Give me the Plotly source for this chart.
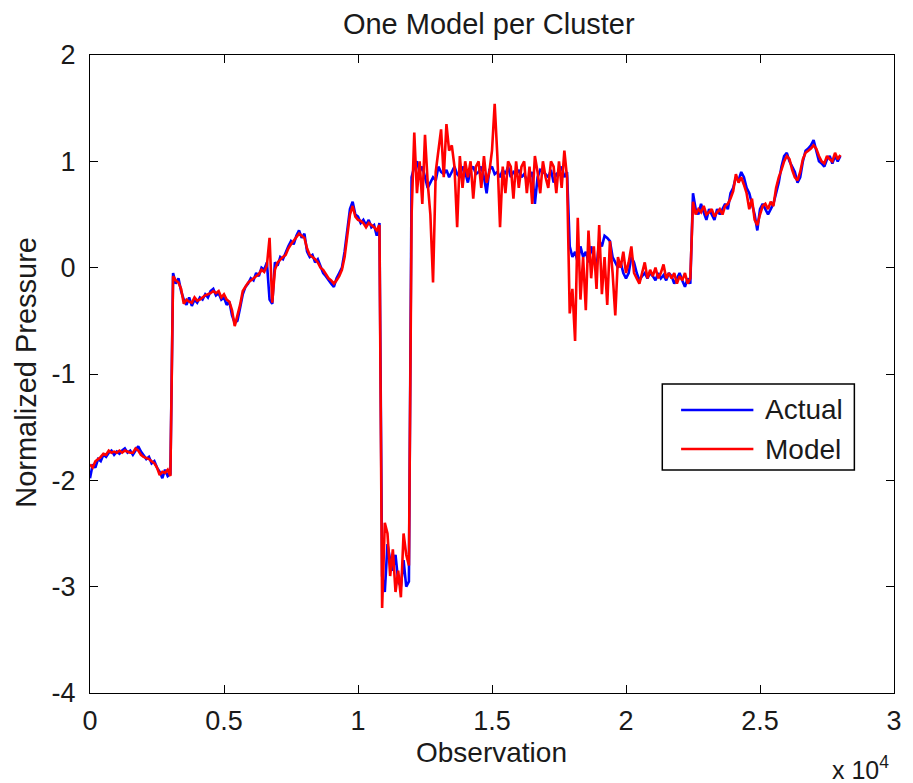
import numpy as np
import plotly.graph_objects as go

OBS_STEP = 100  # observations between stored samples

actual = [
    -1.98, -1.85, -1.88, -1.80, -1.82, -1.76, -1.78, -1.74, -1.72, -1.76,
    -1.73, -1.75, -1.72, -1.70, -1.74, -1.72, -1.76, -1.72, -1.68, -1.73,
    -1.76, -1.80, -1.78, -1.84, -1.82, -1.88, -1.92, -1.98, -1.90, -1.96,
    -1.94, -0.05, -0.15, -0.10, -0.22, -0.30, -0.35, -0.28, -0.36, -0.30,
    -0.33, -0.28, -0.30, -0.25, -0.28, -0.22, -0.20, -0.26, -0.24, -0.30,
    -0.28, -0.35, -0.32, -0.45, -0.52, -0.50, -0.38, -0.25, -0.18, -0.15,
    -0.10, -0.12, -0.05, -0.08, 0.00, -0.02, 0.05, -0.30, -0.34, 0.05,
    0.02, 0.10, 0.08, 0.15, 0.20, 0.25, 0.22, 0.30, 0.35, 0.28,
    0.32, 0.15, 0.10, 0.12, 0.05, 0.08, 0.02, -0.05, -0.08, -0.12,
    -0.15, -0.18, -0.10, -0.05, 0.00, 0.15, 0.35, 0.55, 0.62, 0.50,
    0.48, 0.42, 0.45, 0.40, 0.45, 0.38, 0.40, 0.30, 0.42, -2.90,
    -3.05, -2.60, -2.75, -2.85, -2.70, -2.95, -3.00, -2.75, -3.00, -2.95,
    0.85, 0.95, 1.00, 0.90, 0.95, 0.85, 0.75, 0.80, 0.85, 0.82,
    0.95, 0.90, 0.88, 0.92, 0.85, 0.90, 0.95, 0.88, 0.85, 0.95,
    0.90, 0.80, 0.92, 0.95, 0.88, 0.90, 0.95, 0.85, 0.70, 0.92,
    0.95, 0.88, 0.90, 0.85, 0.92, 0.88, 0.95, 0.85, 0.90, 0.88,
    0.92, 0.85, 0.88, 0.82, 0.85, 0.90, 0.60, 0.85, 0.92, 0.90,
    0.88, 0.85, 0.92, 0.80, 0.88, 0.90, 0.95, 0.85, 0.90, 0.20,
    0.10, 0.15, 0.05, 0.20, 0.10, 0.15, 0.05, 0.20, 0.10, 0.00,
    0.25, 0.20, 0.30, 0.28, 0.25, 0.10, 0.05, 0.00, 0.05, -0.05,
    -0.10, -0.05, 0.10, 0.05, -0.05, -0.12, -0.08, -0.05, -0.10, -0.05,
    -0.08, -0.12, -0.05, -0.10, -0.07, -0.12, -0.05, -0.08, -0.15, -0.10,
    -0.05, -0.12, -0.18, -0.10, -0.15, 0.70, 0.55, 0.50, 0.60, 0.52,
    0.45, 0.55, 0.50, 0.45, 0.55, 0.50, 0.55, 0.60, 0.55, 0.70,
    0.75, 0.85, 0.82, 0.90, 0.85, 0.75, 0.70, 0.60, 0.50, 0.35,
    0.55, 0.60, 0.55, 0.50, 0.55, 0.60, 0.70, 0.80, 0.95, 1.05,
    1.08, 1.00, 0.95, 0.90, 0.80, 0.85, 1.00, 1.10, 1.12, 1.15,
    1.20, 1.10, 1.00, 0.98, 0.95, 1.02, 1.05, 0.98, 1.05, 1.00, 1.05,
]

model = [
    -1.85, -1.88, -1.82, -1.80, -1.78, -1.75, -1.76, -1.72, -1.74, -1.73,
    -1.74, -1.72, -1.74, -1.72, -1.73, -1.74, -1.74, -1.70, -1.72, -1.76,
    -1.78, -1.79, -1.80, -1.82, -1.84, -1.88, -1.95, -1.92, -1.93, -1.90,
    -1.96, -0.08, -0.12, -0.14, -0.20, -0.34, -0.30, -0.32, -0.33, -0.28,
    -0.31, -0.30, -0.28, -0.26, -0.25, -0.24, -0.22, -0.24, -0.22, -0.28,
    -0.25, -0.30, -0.32, -0.40, -0.55, -0.45, -0.35, -0.22, -0.18, -0.14,
    -0.12, -0.10, -0.08, -0.06, -0.02, -0.04, 0.02, 0.28, -0.33, -0.02,
    0.05, 0.08, 0.10, 0.12, 0.18, 0.22, 0.25, 0.28, 0.32, 0.30,
    0.28, 0.18, 0.12, 0.10, 0.08, 0.05, 0.00, -0.02, -0.06, -0.10,
    -0.12, -0.15, -0.12, -0.08, -0.02, 0.10, 0.30, 0.50, 0.58, 0.48,
    0.45, 0.44, 0.42, 0.38, 0.42, 0.40, 0.38, 0.35, 0.40, -3.20,
    -2.40, -2.50, -2.90, -2.65, -3.05, -2.85, -3.10, -2.50, -2.70, -2.80,
    0.50, 1.27, 0.70, 1.00, 0.60, 1.25, 0.80, 0.50, -0.14, 0.90,
    1.10, 1.30, 0.85, 1.35, 1.10, 1.15, 0.95, 0.38, 1.05, 0.75,
    1.00, 0.85, 1.00, 0.65, 0.95, 1.00, 0.75, 1.05, 0.80, 0.90,
    1.10, 1.54, 1.05, 0.38, 0.95, 0.70, 1.00, 0.95, 0.65, 1.00,
    0.75, 0.95, 1.00, 0.70, 0.95, 0.60, 1.05, 0.90, 0.70, 1.00,
    0.85, 0.75, 1.00, 0.95, 0.70, 1.00, 0.75, 1.10, 0.85, -0.43,
    -0.20, -0.69, 0.47, -0.30, 0.10, -0.40, 0.35, -0.10, 0.20, -0.20,
    0.40, -0.25, 0.10, -0.35, 0.25, -0.05, -0.45, 0.10, 0.00, 0.15,
    -0.05, 0.05, 0.20, -0.05, -0.10, -0.15, -0.05, 0.05, -0.10, -0.02,
    -0.08, 0.00, -0.10, -0.05, 0.03, -0.10, -0.05, -0.10, -0.05, -0.15,
    -0.08, -0.12, -0.05, -0.15, -0.10, 0.62, 0.50, 0.55, 0.52, 0.58,
    0.50, 0.52, 0.55, 0.48, 0.52, 0.55, 0.50, 0.58, 0.60, 0.65,
    0.72, 0.88, 0.80, 0.85, 0.78, 0.70, 0.55, 0.65, 0.45, 0.40,
    0.50, 0.58, 0.60, 0.55, 0.62, 0.58, 0.75, 0.85, 0.92, 1.00,
    1.05, 1.02, 0.92, 0.85, 0.82, 0.90, 1.02, 1.08, 1.10, 1.12,
    1.15, 1.12, 1.05, 1.00, 0.98, 1.05, 1.02, 1.00, 1.08, 1.02, 1.06,
]

series_names = ["Actual", "Model"]
series_colors = ["#0000ff", "#ff0000"]

x_tickvals = [0, 5000, 10000, 15000, 20000, 25000, 30000]
x_ticktext = ["0", "0.5", "1", "1.5", "2", "2.5", "3"]
y_tickvals = [-4, -3, -2, -1, 0, 1, 2]
y_ticktext = ["-4", "-3", "-2", "-1", "0", "1", "2"]

obs = np.arange(len(actual)) * OBS_STEP

FONT = "Liberation Sans, Arial, sans-serif"
TXT = "#1a1a1a"
LW = 2.6

fig = go.Figure()
for vals, name, col in zip([actual, model], series_names, series_colors):
    fig.add_trace(go.Scatter(x=obs, y=vals, mode="lines", name=name,
                             line=dict(color=col, width=LW), showlegend=False))

axis_common = dict(showline=True, linecolor="black", linewidth=1, mirror="ticks",
                   ticks="inside", ticklen=8, tickcolor="black", showgrid=False,
                   zeroline=False, tickfont=dict(family=FONT, size=27, color=TXT))

fig.update_xaxes(range=[0, 30000], tickvals=x_tickvals, ticktext=x_ticktext,
                 ticklabelstandoff=4, **axis_common)
fig.update_yaxes(range=[-4, 2], tickvals=y_tickvals, ticktext=y_ticktext,
                 ticklabelstandoff=8, **axis_common)

# legend box (drawn in paper coordinates, MATLAB style)
LEG_X0, LEG_X1, LEG_Y0, LEG_Y1 = 0.7118, 0.9507, 0.3495, 0.4843
LEG_ROWS = [0.4436, 0.3824]
LEG_LINE_X = [0.7352, 0.8251]
LEG_TEXT_X = 0.8374

shapes = [dict(type="rect", xref="paper", yref="paper", x0=LEG_X0, x1=LEG_X1,
               y0=LEG_Y0, y1=LEG_Y1, line=dict(color="black", width=1.5),
               fillcolor="white", layer="above")]
annotations = []
for name, col, ry in zip(series_names, series_colors, LEG_ROWS):
    shapes.append(dict(type="line", xref="paper", yref="paper", x0=LEG_LINE_X[0],
                       x1=LEG_LINE_X[1], y0=ry, y1=ry,
                       line=dict(color=col, width=LW), layer="above"))
    annotations.append(dict(text=name, x=LEG_TEXT_X, y=ry, xref="paper", yref="paper",
                            xanchor="left", yanchor="middle", showarrow=False,
                            font=dict(family=FONT, size=28, color=TXT)))

annotations += [
    dict(text="Observation", x=0.499, y=-0.0925, xref="paper", yref="paper",
         xanchor="center", yanchor="middle", showarrow=False,
         font=dict(family=FONT, size=28, color=TXT)),
    dict(text="Normalized Pressure", x=-0.080, y=0.503, xref="paper", yref="paper",
         xanchor="center", yanchor="middle", showarrow=False, textangle=-90,
         font=dict(family=FONT, size=29, color=TXT)),
    dict(text="x 10<sup>4</sup>", x=0.921, y=-0.118, xref="paper", yref="paper",
         xanchor="left", yanchor="middle", showarrow=False,
         font=dict(family=FONT, size=25, color=TXT)),
]

fig.update_layout(
    width=913, height=783,
    margin=dict(l=90, r=11, t=55, b=90),
    plot_bgcolor="white", paper_bgcolor="white",
    font=dict(family=FONT, size=27, color=TXT),
    title=dict(text="One Model per Cluster", x=0.496, xref="paper", xanchor="center",
               y=0.970, yref="container", yanchor="middle",
               font=dict(family=FONT, size=29, color=TXT)),
    showlegend=False,
    shapes=shapes,
    annotations=annotations,
)

fig.write_html("out.html")
